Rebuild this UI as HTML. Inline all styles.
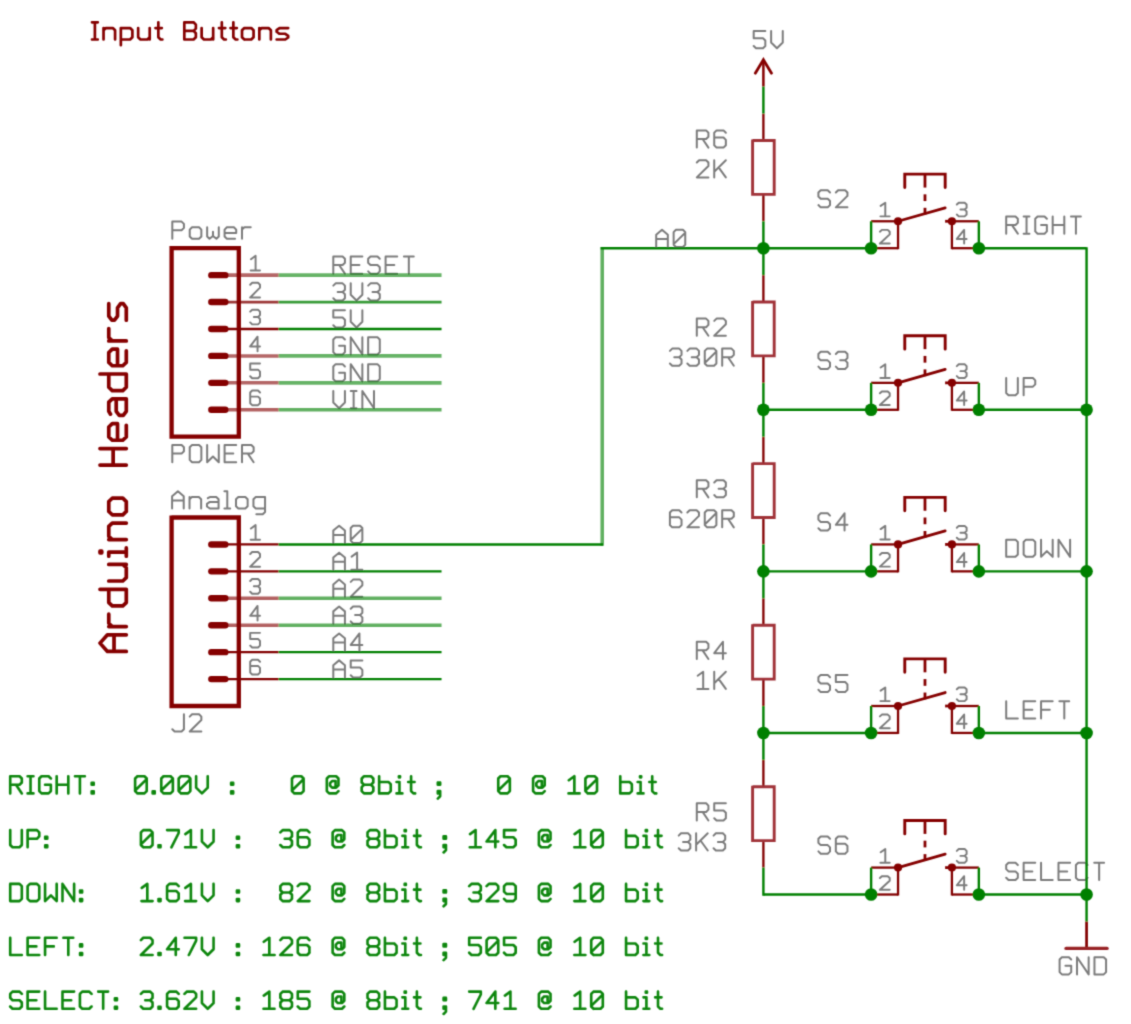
<!DOCTYPE html>
<html><head><meta charset="utf-8"><title>Input Buttons</title>
<style>
html,body{margin:0;padding:0;background:#fff;font-family:"Liberation Sans",sans-serif;}
svg{display:block}
</style></head><body>
<svg width="1131" height="1024" viewBox="0 0 1131 1024">
<defs><filter id="b" x="0" y="0" width="1131" height="1024" filterUnits="userSpaceOnUse"><feConvolveMatrix order="3" kernelMatrix="0.0256 0.1088 0.0256 0.1088 0.4624 0.1088 0.0256 0.1088 0.0256" edgeMode="none" preserveAlpha="false"/></filter></defs>
<rect width="1131" height="1024" fill="#fff"/>
<g filter="url(#b)">
<path d="M92.00 39.50 L97.77 39.50 M94.89 39.50 L94.89 22.30 M92.00 22.30 L97.77 22.30 M103.54 28.03 L103.54 39.50 M103.54 30.33 L105.85 28.03 L112.77 28.03 L115.08 30.33 L115.08 39.50 M120.85 45.23 L120.85 28.03 L130.08 28.03 L132.39 30.33 L132.39 37.21 L130.08 39.50 L120.85 39.50 M138.16 28.03 L138.16 37.21 L140.47 39.50 L147.39 39.50 L149.70 37.21 M149.70 28.03 L149.70 39.50 M158.35 22.30 L158.35 37.21 L160.66 39.50 L162.39 39.50 M155.47 28.03 L161.82 28.03 M184.32 39.50 L184.32 22.30 L193.55 22.30 L195.86 24.59 L195.86 28.61 L193.55 30.90 L184.32 30.90 M193.55 30.90 L195.86 33.19 L195.86 37.21 L193.55 39.50 L184.32 39.50 M201.63 28.03 L201.63 37.21 L203.94 39.50 L210.86 39.50 L213.17 37.21 M213.17 28.03 L213.17 39.50 M221.82 22.30 L221.82 37.21 L224.13 39.50 L225.86 39.50 M218.94 28.03 L225.29 28.03 M233.36 22.30 L233.36 37.21 L235.67 39.50 L237.40 39.50 M230.48 28.03 L236.83 28.03 M244.33 39.50 L242.02 37.21 L242.02 30.33 L244.33 28.03 L251.25 28.03 L253.56 30.33 L253.56 37.21 L251.25 39.50 L244.33 39.50 M259.33 28.03 L259.33 39.50 M259.33 30.33 L261.64 28.03 L268.56 28.03 L270.87 30.33 L270.87 39.50 M288.18 28.03 L279.52 28.03 L276.64 30.04 L276.64 31.76 L279.52 33.77 L285.29 33.77 L288.18 35.77 L288.18 37.49 L285.29 39.50 L276.64 39.50" stroke="#850000" stroke-width="2.70" stroke-linecap="round" stroke-linejoin="round" fill="none" opacity="1.00"/>
<path d="M126.30 651.40 L107.45 651.40 L100.00 643.12 L107.45 634.84 L126.30 634.84 M114.03 651.40 L114.03 634.84 M108.77 626.56 L126.30 626.56 M112.27 626.56 L108.77 623.25 L108.77 614.14 M100.00 589.30 L126.30 589.30 L126.30 602.55 L122.79 605.86 L112.27 605.86 L108.77 602.55 L108.77 589.30 M108.77 581.02 L122.79 581.02 L126.30 577.71 L126.30 567.77 L122.79 564.46 M108.77 564.46 L126.30 564.46 M108.77 556.18 L108.77 552.04 L126.30 552.04 M126.30 556.18 L126.30 547.90 M101.75 552.87 L101.75 551.21 L100.00 551.21 L100.00 552.87 L101.75 552.87 M108.77 539.62 L126.30 539.62 M112.27 539.62 L108.77 536.31 L108.77 526.37 L112.27 523.06 L126.30 523.06 M126.30 511.47 L122.79 514.78 L112.27 514.78 L108.77 511.47 L108.77 501.53 L112.27 498.22 L122.79 498.22 L126.30 501.53 L126.30 511.47 M126.30 465.10 L100.00 465.10 M126.30 448.54 L100.00 448.54 M113.15 465.10 L113.15 448.54 M117.53 440.26 L117.53 423.70 L112.27 423.70 L108.77 427.01 L108.77 436.95 L112.27 440.26 L122.79 440.26 L126.30 436.95 L126.30 425.36 M110.52 414.18 L108.77 411.28 L108.77 402.17 L112.27 398.86 L126.30 398.86 M126.30 398.86 L126.30 411.28 L123.23 415.42 L119.29 415.42 L116.22 411.28 L116.22 398.86 M100.00 374.02 L126.30 374.02 L126.30 387.27 L122.79 390.58 L112.27 390.58 L108.77 387.27 L108.77 374.02 M117.53 365.74 L117.53 349.18 L112.27 349.18 L108.77 352.49 L108.77 362.43 L112.27 365.74 L122.79 365.74 L126.30 362.43 L126.30 350.84 M108.77 340.90 L126.30 340.90 M112.27 340.90 L108.77 337.59 L108.77 328.48 M108.77 303.64 L108.77 316.06 L111.83 320.20 L114.46 320.20 L117.53 316.06 L117.53 307.78 L120.60 303.64 L123.23 303.64 L126.30 307.78 L126.30 320.20" stroke="#850000" stroke-width="3.70" stroke-linecap="round" stroke-linejoin="round" fill="none" opacity="1.00"/>
<path d="M765.32 31.10 L753.70 31.10 L753.70 38.27 L763.00 38.27 L765.32 40.56 L765.32 46.01 L763.00 48.30 L756.02 48.30 L753.70 46.01 M771.13 31.10 L771.13 42.57 L776.94 48.30 L782.75 42.57 L782.75 31.10" stroke="#7c7c7c" stroke-width="2.00" stroke-linecap="round" stroke-linejoin="round" fill="none" opacity="1.00"/>
<path d="M1071.22 959.49 L1068.90 957.20 L1061.92 957.20 L1059.60 959.49 L1059.60 972.11 L1061.92 974.40 L1068.90 974.40 L1071.22 972.11 L1071.22 965.80 L1065.41 965.80 M1077.03 974.40 L1077.03 957.20 L1088.65 974.40 L1088.65 957.20 M1094.46 974.40 L1094.46 957.20 L1103.76 957.20 L1106.08 959.49 L1106.08 972.11 L1103.76 974.40 L1094.46 974.40" stroke="#7c7c7c" stroke-width="2.00" stroke-linecap="round" stroke-linejoin="round" fill="none" opacity="1.00"/>
<path d="M656.20 247.00 L656.20 234.67 L662.01 229.80 L667.82 234.67 L667.82 247.00 M656.20 238.97 L667.82 238.97 M675.95 247.00 L673.63 244.71 L673.63 232.09 L675.95 229.80 L682.93 229.80 L685.25 232.09 L685.25 244.71 L682.93 247.00 L675.95 247.00 M673.63 244.13 L685.25 232.67" stroke="#7c7c7c" stroke-width="2.00" stroke-linecap="round" stroke-linejoin="round" fill="none" opacity="1.00"/>
<path d="M696.80 147.60 L696.80 130.40 L706.10 130.40 L708.42 132.69 L708.42 136.71 L706.10 139.00 L696.80 139.00 M702.61 139.00 L708.42 147.60 M725.85 132.69 L723.53 130.40 L716.55 130.40 L714.23 132.69 L714.23 145.31 L716.55 147.60 L723.53 147.60 L725.85 145.31 L725.85 139.86 L723.53 137.57 L714.23 137.57" stroke="#7c7c7c" stroke-width="2.00" stroke-linecap="round" stroke-linejoin="round" fill="none" opacity="1.00"/>
<path d="M696.80 162.49 L699.12 160.20 L706.10 160.20 L708.42 162.49 L708.42 165.93 L696.80 177.40 L708.42 177.40 M714.23 177.40 L714.23 160.20 M725.85 160.20 L714.23 171.67 M718.59 167.37 L725.85 177.40" stroke="#7c7c7c" stroke-width="2.00" stroke-linecap="round" stroke-linejoin="round" fill="none" opacity="1.00"/>
<path d="M696.80 335.79 L696.80 318.59 L706.10 318.59 L708.42 320.88 L708.42 324.90 L706.10 327.19 L696.80 327.19 M702.61 327.19 L708.42 335.79 M714.23 320.88 L716.55 318.59 L723.53 318.59 L725.85 320.88 L725.85 324.32 L714.23 335.79 L725.85 335.79" stroke="#7c7c7c" stroke-width="2.00" stroke-linecap="round" stroke-linejoin="round" fill="none" opacity="1.00"/>
<path d="M669.90 350.88 L672.22 348.59 L679.20 348.59 L681.52 350.88 L681.52 354.90 L679.20 357.19 L674.26 357.19 M679.20 357.19 L681.52 359.48 L681.52 363.50 L679.20 365.79 L672.22 365.79 L669.90 363.50 M687.33 350.88 L689.65 348.59 L696.63 348.59 L698.95 350.88 L698.95 354.90 L696.63 357.19 L691.69 357.19 M696.63 357.19 L698.95 359.48 L698.95 363.50 L696.63 365.79 L689.65 365.79 L687.33 363.50 M707.08 365.79 L704.76 363.50 L704.76 350.88 L707.08 348.59 L714.06 348.59 L716.38 350.88 L716.38 363.50 L714.06 365.79 L707.08 365.79 M704.76 362.92 L716.38 351.46 M722.19 365.79 L722.19 348.59 L731.49 348.59 L733.81 350.88 L733.81 354.90 L731.49 357.19 L722.19 357.19 M728.00 357.19 L733.81 365.79" stroke="#7c7c7c" stroke-width="2.00" stroke-linecap="round" stroke-linejoin="round" fill="none" opacity="1.00"/>
<path d="M696.80 497.37 L696.80 480.17 L706.10 480.17 L708.42 482.46 L708.42 486.48 L706.10 488.77 L696.80 488.77 M702.61 488.77 L708.42 497.37 M714.23 482.46 L716.55 480.17 L723.53 480.17 L725.85 482.46 L725.85 486.48 L723.53 488.77 L718.59 488.77 M723.53 488.77 L725.85 491.06 L725.85 495.08 L723.53 497.37 L716.55 497.37 L714.23 495.08" stroke="#7c7c7c" stroke-width="2.00" stroke-linecap="round" stroke-linejoin="round" fill="none" opacity="1.00"/>
<path d="M681.52 512.46 L679.20 510.17 L672.22 510.17 L669.90 512.46 L669.90 525.08 L672.22 527.37 L679.20 527.37 L681.52 525.08 L681.52 519.63 L679.20 517.34 L669.90 517.34 M687.33 512.46 L689.65 510.17 L696.63 510.17 L698.95 512.46 L698.95 515.90 L687.33 527.37 L698.95 527.37 M707.08 527.37 L704.76 525.08 L704.76 512.46 L707.08 510.17 L714.06 510.17 L716.38 512.46 L716.38 525.08 L714.06 527.37 L707.08 527.37 M704.76 524.50 L716.38 513.04 M722.19 527.37 L722.19 510.17 L731.49 510.17 L733.81 512.46 L733.81 516.48 L731.49 518.77 L722.19 518.77 M728.00 518.77 L733.81 527.37" stroke="#7c7c7c" stroke-width="2.00" stroke-linecap="round" stroke-linejoin="round" fill="none" opacity="1.00"/>
<path d="M696.80 658.95 L696.80 641.75 L706.10 641.75 L708.42 644.04 L708.42 648.06 L706.10 650.35 L696.80 650.35 M702.61 650.35 L708.42 658.95 M722.94 658.95 L722.94 641.75 L714.23 653.22 L725.85 653.22" stroke="#7c7c7c" stroke-width="2.00" stroke-linecap="round" stroke-linejoin="round" fill="none" opacity="1.00"/>
<path d="M697.67 675.76 L703.19 671.75 L703.19 688.95 M697.38 688.95 L708.42 688.95 M714.23 688.95 L714.23 671.75 M725.85 671.75 L714.23 683.22 M718.59 678.92 L725.85 688.95" stroke="#7c7c7c" stroke-width="2.00" stroke-linecap="round" stroke-linejoin="round" fill="none" opacity="1.00"/>
<path d="M696.80 820.53 L696.80 803.33 L706.10 803.33 L708.42 805.62 L708.42 809.64 L706.10 811.93 L696.80 811.93 M702.61 811.93 L708.42 820.53 M725.85 803.33 L714.23 803.33 L714.23 810.50 L723.53 810.50 L725.85 812.79 L725.85 818.24 L723.53 820.53 L716.55 820.53 L714.23 818.24" stroke="#7c7c7c" stroke-width="2.00" stroke-linecap="round" stroke-linejoin="round" fill="none" opacity="1.00"/>
<path d="M678.70 835.62 L681.02 833.33 L688.00 833.33 L690.32 835.62 L690.32 839.64 L688.00 841.93 L683.06 841.93 M688.00 841.93 L690.32 844.22 L690.32 848.24 L688.00 850.53 L681.02 850.53 L678.70 848.24 M696.13 850.53 L696.13 833.33 M707.75 833.33 L696.13 844.80 M700.49 840.50 L707.75 850.53 M713.56 835.62 L715.88 833.33 L722.86 833.33 L725.18 835.62 L725.18 839.64 L722.86 841.93 L717.92 841.93 M722.86 841.93 L725.18 844.22 L725.18 848.24 L722.86 850.53 L715.88 850.53 L713.56 848.24" stroke="#7c7c7c" stroke-width="2.00" stroke-linecap="round" stroke-linejoin="round" fill="none" opacity="1.00"/>
<path d="M830.02 192.46 L827.70 190.17 L820.72 190.17 L818.40 192.46 L818.40 196.48 L820.72 198.77 L827.70 198.77 L830.02 201.06 L830.02 205.08 L827.70 207.37 L820.72 207.37 L818.40 205.08 M835.83 192.46 L838.15 190.17 L845.13 190.17 L847.45 192.46 L847.45 195.90 L835.83 207.37 L847.45 207.37" stroke="#7c7c7c" stroke-width="2.00" stroke-linecap="round" stroke-linejoin="round" fill="none" opacity="1.00"/>
<path d="M1006.20 233.67 L1006.20 216.47 L1015.50 216.47 L1017.82 218.76 L1017.82 222.78 L1015.50 225.07 L1006.20 225.07 M1012.01 225.07 L1017.82 233.67 M1023.63 233.67 L1029.44 233.67 M1026.54 233.67 L1026.54 216.47 M1023.63 216.47 L1029.44 216.47 M1046.87 218.76 L1044.55 216.47 L1037.57 216.47 L1035.25 218.76 L1035.25 231.38 L1037.57 233.67 L1044.55 233.67 L1046.87 231.38 L1046.87 225.07 L1041.06 225.07 M1052.68 233.67 L1052.68 216.47 M1064.30 233.67 L1064.30 216.47 M1052.68 225.07 L1064.30 225.07 M1070.98 216.47 L1080.86 216.47 M1075.92 216.47 L1075.92 233.67" stroke="#7c7c7c" stroke-width="2.00" stroke-linecap="round" stroke-linejoin="round" fill="none" opacity="1.00"/>
<path d="M880.63 205.93 L885.29 202.75 L885.29 216.37 M880.39 216.37 L889.70 216.37" stroke="#7c7c7c" stroke-width="1.95" stroke-linecap="round" stroke-linejoin="round" fill="none" opacity="1.00"/>
<path d="M879.90 231.67 L881.86 229.85 L887.74 229.85 L889.70 231.67 L889.70 234.39 L879.90 243.47 L889.70 243.47" stroke="#7c7c7c" stroke-width="1.95" stroke-linecap="round" stroke-linejoin="round" fill="none" opacity="1.00"/>
<path d="M956.80 204.57 L958.76 202.75 L964.64 202.75 L966.60 204.57 L966.60 207.74 L964.64 209.56 L960.47 209.56 M964.64 209.56 L966.60 211.38 L966.60 214.55 L964.64 216.37 L958.76 216.37 L956.80 214.55" stroke="#7c7c7c" stroke-width="1.95" stroke-linecap="round" stroke-linejoin="round" fill="none" opacity="1.00"/>
<path d="M964.15 243.47 L964.15 229.85 L956.80 238.93 L966.60 238.93" stroke="#7c7c7c" stroke-width="1.95" stroke-linecap="round" stroke-linejoin="round" fill="none" opacity="1.00"/>
<path d="M830.02 354.04 L827.70 351.75 L820.72 351.75 L818.40 354.04 L818.40 358.06 L820.72 360.35 L827.70 360.35 L830.02 362.64 L830.02 366.66 L827.70 368.95 L820.72 368.95 L818.40 366.66 M835.83 354.04 L838.15 351.75 L845.13 351.75 L847.45 354.04 L847.45 358.06 L845.13 360.35 L840.19 360.35 M845.13 360.35 L847.45 362.64 L847.45 366.66 L845.13 368.95 L838.15 368.95 L835.83 366.66" stroke="#7c7c7c" stroke-width="2.00" stroke-linecap="round" stroke-linejoin="round" fill="none" opacity="1.00"/>
<path d="M1006.20 378.05 L1006.20 392.96 L1008.52 395.25 L1015.50 395.25 L1017.82 392.96 L1017.82 378.05 M1023.63 395.25 L1023.63 378.05 L1032.93 378.05 L1035.25 380.34 L1035.25 384.36 L1032.93 386.65 L1023.63 386.65" stroke="#7c7c7c" stroke-width="2.00" stroke-linecap="round" stroke-linejoin="round" fill="none" opacity="1.00"/>
<path d="M880.63 367.51 L885.29 364.33 L885.29 377.95 M880.39 377.95 L889.70 377.95" stroke="#7c7c7c" stroke-width="1.95" stroke-linecap="round" stroke-linejoin="round" fill="none" opacity="1.00"/>
<path d="M879.90 393.25 L881.86 391.43 L887.74 391.43 L889.70 393.25 L889.70 395.97 L879.90 405.05 L889.70 405.05" stroke="#7c7c7c" stroke-width="1.95" stroke-linecap="round" stroke-linejoin="round" fill="none" opacity="1.00"/>
<path d="M956.80 366.15 L958.76 364.33 L964.64 364.33 L966.60 366.15 L966.60 369.32 L964.64 371.14 L960.47 371.14 M964.64 371.14 L966.60 372.96 L966.60 376.13 L964.64 377.95 L958.76 377.95 L956.80 376.13" stroke="#7c7c7c" stroke-width="1.95" stroke-linecap="round" stroke-linejoin="round" fill="none" opacity="1.00"/>
<path d="M964.15 405.05 L964.15 391.43 L956.80 400.51 L966.60 400.51" stroke="#7c7c7c" stroke-width="1.95" stroke-linecap="round" stroke-linejoin="round" fill="none" opacity="1.00"/>
<path d="M830.02 515.62 L827.70 513.33 L820.72 513.33 L818.40 515.62 L818.40 519.64 L820.72 521.93 L827.70 521.93 L830.02 524.22 L830.02 528.24 L827.70 530.53 L820.72 530.53 L818.40 528.24 M844.54 530.53 L844.54 513.33 L835.83 524.80 L847.45 524.80" stroke="#7c7c7c" stroke-width="2.00" stroke-linecap="round" stroke-linejoin="round" fill="none" opacity="1.00"/>
<path d="M1006.20 556.83 L1006.20 539.63 L1015.50 539.63 L1017.82 541.92 L1017.82 554.54 L1015.50 556.83 L1006.20 556.83 M1025.95 556.83 L1023.63 554.54 L1023.63 541.92 L1025.95 539.63 L1032.93 539.63 L1035.25 541.92 L1035.25 554.54 L1032.93 556.83 L1025.95 556.83 M1041.06 539.63 L1041.06 556.83 L1046.87 551.10 L1052.68 556.83 L1052.68 539.63 M1058.49 556.83 L1058.49 539.63 L1070.11 556.83 L1070.11 539.63" stroke="#7c7c7c" stroke-width="2.00" stroke-linecap="round" stroke-linejoin="round" fill="none" opacity="1.00"/>
<path d="M880.63 529.09 L885.29 525.91 L885.29 539.53 M880.39 539.53 L889.70 539.53" stroke="#7c7c7c" stroke-width="1.95" stroke-linecap="round" stroke-linejoin="round" fill="none" opacity="1.00"/>
<path d="M879.90 554.83 L881.86 553.01 L887.74 553.01 L889.70 554.83 L889.70 557.55 L879.90 566.63 L889.70 566.63" stroke="#7c7c7c" stroke-width="1.95" stroke-linecap="round" stroke-linejoin="round" fill="none" opacity="1.00"/>
<path d="M956.80 527.73 L958.76 525.91 L964.64 525.91 L966.60 527.73 L966.60 530.90 L964.64 532.72 L960.47 532.72 M964.64 532.72 L966.60 534.54 L966.60 537.71 L964.64 539.53 L958.76 539.53 L956.80 537.71" stroke="#7c7c7c" stroke-width="1.95" stroke-linecap="round" stroke-linejoin="round" fill="none" opacity="1.00"/>
<path d="M964.15 566.63 L964.15 553.01 L956.80 562.09 L966.60 562.09" stroke="#7c7c7c" stroke-width="1.95" stroke-linecap="round" stroke-linejoin="round" fill="none" opacity="1.00"/>
<path d="M830.02 677.20 L827.70 674.91 L820.72 674.91 L818.40 677.20 L818.40 681.22 L820.72 683.51 L827.70 683.51 L830.02 685.80 L830.02 689.82 L827.70 692.11 L820.72 692.11 L818.40 689.82 M847.45 674.91 L835.83 674.91 L835.83 682.08 L845.13 682.08 L847.45 684.37 L847.45 689.82 L845.13 692.11 L838.15 692.11 L835.83 689.82" stroke="#7c7c7c" stroke-width="2.00" stroke-linecap="round" stroke-linejoin="round" fill="none" opacity="1.00"/>
<path d="M1006.20 701.21 L1006.20 718.41 L1017.82 718.41 M1035.25 718.41 L1023.63 718.41 L1023.63 701.21 L1035.25 701.21 M1023.63 709.81 L1032.35 709.81 M1041.06 718.41 L1041.06 701.21 L1052.68 701.21 M1041.06 709.81 L1049.78 709.81 M1059.36 701.21 L1069.24 701.21 M1064.30 701.21 L1064.30 718.41" stroke="#7c7c7c" stroke-width="2.00" stroke-linecap="round" stroke-linejoin="round" fill="none" opacity="1.00"/>
<path d="M880.63 690.67 L885.29 687.49 L885.29 701.11 M880.39 701.11 L889.70 701.11" stroke="#7c7c7c" stroke-width="1.95" stroke-linecap="round" stroke-linejoin="round" fill="none" opacity="1.00"/>
<path d="M879.90 716.41 L881.86 714.59 L887.74 714.59 L889.70 716.41 L889.70 719.13 L879.90 728.21 L889.70 728.21" stroke="#7c7c7c" stroke-width="1.95" stroke-linecap="round" stroke-linejoin="round" fill="none" opacity="1.00"/>
<path d="M956.80 689.31 L958.76 687.49 L964.64 687.49 L966.60 689.31 L966.60 692.48 L964.64 694.30 L960.47 694.30 M964.64 694.30 L966.60 696.12 L966.60 699.29 L964.64 701.11 L958.76 701.11 L956.80 699.29" stroke="#7c7c7c" stroke-width="1.95" stroke-linecap="round" stroke-linejoin="round" fill="none" opacity="1.00"/>
<path d="M964.15 728.21 L964.15 714.59 L956.80 723.67 L966.60 723.67" stroke="#7c7c7c" stroke-width="1.95" stroke-linecap="round" stroke-linejoin="round" fill="none" opacity="1.00"/>
<path d="M830.02 838.78 L827.70 836.49 L820.72 836.49 L818.40 838.78 L818.40 842.80 L820.72 845.09 L827.70 845.09 L830.02 847.38 L830.02 851.40 L827.70 853.69 L820.72 853.69 L818.40 851.40 M847.45 838.78 L845.13 836.49 L838.15 836.49 L835.83 838.78 L835.83 851.40 L838.15 853.69 L845.13 853.69 L847.45 851.40 L847.45 845.95 L845.13 843.66 L835.83 843.66" stroke="#7c7c7c" stroke-width="2.00" stroke-linecap="round" stroke-linejoin="round" fill="none" opacity="1.00"/>
<path d="M1017.82 865.08 L1015.50 862.79 L1008.52 862.79 L1006.20 865.08 L1006.20 869.10 L1008.52 871.39 L1015.50 871.39 L1017.82 873.68 L1017.82 877.70 L1015.50 879.99 L1008.52 879.99 L1006.20 877.70 M1035.25 879.99 L1023.63 879.99 L1023.63 862.79 L1035.25 862.79 M1023.63 871.39 L1032.35 871.39 M1041.06 862.79 L1041.06 879.99 L1052.68 879.99 M1070.11 879.99 L1058.49 879.99 L1058.49 862.79 L1070.11 862.79 M1058.49 871.39 L1067.20 871.39 M1087.54 877.70 L1085.22 879.99 L1078.24 879.99 L1075.92 877.70 L1075.92 865.08 L1078.24 862.79 L1085.22 862.79 L1087.54 865.08 M1094.22 862.79 L1104.10 862.79 M1099.16 862.79 L1099.16 879.99" stroke="#7c7c7c" stroke-width="2.00" stroke-linecap="round" stroke-linejoin="round" fill="none" opacity="1.00"/>
<path d="M880.63 852.25 L885.29 849.07 L885.29 862.69 M880.39 862.69 L889.70 862.69" stroke="#7c7c7c" stroke-width="1.95" stroke-linecap="round" stroke-linejoin="round" fill="none" opacity="1.00"/>
<path d="M879.90 877.99 L881.86 876.17 L887.74 876.17 L889.70 877.99 L889.70 880.71 L879.90 889.79 L889.70 889.79" stroke="#7c7c7c" stroke-width="1.95" stroke-linecap="round" stroke-linejoin="round" fill="none" opacity="1.00"/>
<path d="M956.80 850.89 L958.76 849.07 L964.64 849.07 L966.60 850.89 L966.60 854.06 L964.64 855.88 L960.47 855.88 M964.64 855.88 L966.60 857.70 L966.60 860.87 L964.64 862.69 L958.76 862.69 L956.80 860.87" stroke="#7c7c7c" stroke-width="1.95" stroke-linecap="round" stroke-linejoin="round" fill="none" opacity="1.00"/>
<path d="M964.15 889.79 L964.15 876.17 L956.80 885.25 L966.60 885.25" stroke="#7c7c7c" stroke-width="1.95" stroke-linecap="round" stroke-linejoin="round" fill="none" opacity="1.00"/>
<path d="M172.30 238.80 L172.30 221.60 L181.60 221.60 L183.92 223.89 L183.92 227.91 L181.60 230.20 L172.30 230.20 M192.05 238.80 L189.73 236.51 L189.73 229.63 L192.05 227.33 L199.03 227.33 L201.35 229.63 L201.35 236.51 L199.03 238.80 L192.05 238.80 M207.16 227.33 L207.16 236.51 L209.48 238.80 L212.97 235.93 L216.46 238.80 L218.78 236.51 L218.78 227.33 M212.97 235.93 L212.97 231.63 M224.59 233.07 L236.21 233.07 L236.21 229.63 L233.89 227.33 L226.91 227.33 L224.59 229.63 L224.59 236.51 L226.91 238.80 L235.05 238.80 M242.02 227.33 L242.02 238.80 M242.02 229.63 L244.34 227.33 L250.74 227.33" stroke="#7c7c7c" stroke-width="2.00" stroke-linecap="round" stroke-linejoin="round" fill="none" opacity="1.00"/>
<path d="M172.30 462.20 L172.30 445.00 L181.60 445.00 L183.92 447.29 L183.92 451.31 L181.60 453.60 L172.30 453.60 M192.05 462.20 L189.73 459.91 L189.73 447.29 L192.05 445.00 L199.03 445.00 L201.35 447.29 L201.35 459.91 L199.03 462.20 L192.05 462.20 M207.16 445.00 L207.16 462.20 L212.97 456.47 L218.78 462.20 L218.78 445.00 M236.21 462.20 L224.59 462.20 L224.59 445.00 L236.21 445.00 M224.59 453.60 L233.31 453.60 M242.02 462.20 L242.02 445.00 L251.32 445.00 L253.64 447.29 L253.64 451.31 L251.32 453.60 L242.02 453.60 M247.83 453.60 L253.64 462.20" stroke="#7c7c7c" stroke-width="2.00" stroke-linecap="round" stroke-linejoin="round" fill="none" opacity="1.00"/>
<path d="M172.10 508.50 L172.10 496.17 L177.91 491.30 L183.72 496.17 L183.72 508.50 M172.10 500.47 L183.72 500.47 M189.53 497.03 L189.53 508.50 M189.53 499.33 L191.85 497.03 L198.83 497.03 L201.15 499.33 L201.15 508.50 M207.83 498.18 L209.87 497.03 L216.26 497.03 L218.58 499.33 L218.58 508.50 M218.58 508.50 L209.87 508.50 L206.96 506.49 L206.96 503.91 L209.87 501.91 L218.58 501.91 M224.39 491.30 L227.29 491.30 L227.29 508.50 M224.39 508.50 L230.20 508.50 M238.33 508.50 L236.01 506.21 L236.01 499.33 L238.33 497.03 L245.31 497.03 L247.63 499.33 L247.63 506.21 L245.31 508.50 L238.33 508.50 M265.06 508.50 L255.76 508.50 L253.44 506.21 L253.44 499.33 L255.76 497.03 L265.06 497.03 L265.06 511.94 L262.74 514.23 L256.34 514.23" stroke="#7c7c7c" stroke-width="2.00" stroke-linecap="round" stroke-linejoin="round" fill="none" opacity="1.00"/>
<path d="M172.30 729.21 L174.62 731.50 L181.60 731.50 L183.92 729.21 L183.92 714.30 M189.73 716.59 L192.05 714.30 L199.03 714.30 L201.35 716.59 L201.35 720.03 L189.73 731.50 L201.35 731.50" stroke="#7c7c7c" stroke-width="2.00" stroke-linecap="round" stroke-linejoin="round" fill="none" opacity="1.00"/>
<path d="M250.94 259.26 L255.59 255.83 L255.59 270.53 M250.69 270.53 L260.00 270.53" stroke="#7c7c7c" stroke-width="1.95" stroke-linecap="round" stroke-linejoin="round" fill="none" opacity="1.00"/>
<path d="M333.30 273.63 L333.30 256.43 L342.60 256.43 L344.92 258.72 L344.92 262.74 L342.60 265.03 L333.30 265.03 M339.11 265.03 L344.92 273.63 M362.35 273.63 L350.73 273.63 L350.73 256.43 L362.35 256.43 M350.73 265.03 L359.44 265.03 M379.78 258.72 L377.46 256.43 L370.48 256.43 L368.16 258.72 L368.16 262.74 L370.48 265.03 L377.46 265.03 L379.78 267.32 L379.78 271.34 L377.46 273.63 L370.48 273.63 L368.16 271.34 M397.21 273.63 L385.59 273.63 L385.59 256.43 L397.21 256.43 M385.59 265.03 L394.31 265.03 M403.89 256.43 L413.77 256.43 M408.83 256.43 L408.83 273.63" stroke="#7c7c7c" stroke-width="2.00" stroke-linecap="round" stroke-linejoin="round" fill="none" opacity="1.00"/>
<path d="M250.94 528.56 L255.59 525.13 L255.59 539.83 M250.69 539.83 L260.00 539.83" stroke="#7c7c7c" stroke-width="1.95" stroke-linecap="round" stroke-linejoin="round" fill="none" opacity="1.00"/>
<path d="M333.30 542.93 L333.30 530.60 L339.11 525.73 L344.92 530.60 L344.92 542.93 M333.30 534.90 L344.92 534.90 M353.05 542.93 L350.73 540.64 L350.73 528.02 L353.05 525.73 L360.03 525.73 L362.35 528.02 L362.35 540.64 L360.03 542.93 L353.05 542.93 M350.73 540.06 L362.35 528.60" stroke="#7c7c7c" stroke-width="2.00" stroke-linecap="round" stroke-linejoin="round" fill="none" opacity="1.00"/>
<path d="M250.20 284.72 L252.16 282.76 L258.04 282.76 L260.00 284.72 L260.00 287.66 L250.20 297.46 L260.00 297.46" stroke="#7c7c7c" stroke-width="1.95" stroke-linecap="round" stroke-linejoin="round" fill="none" opacity="1.00"/>
<path d="M333.30 285.65 L335.62 283.36 L342.60 283.36 L344.92 285.65 L344.92 289.67 L342.60 291.96 L337.66 291.96 M342.60 291.96 L344.92 294.25 L344.92 298.27 L342.60 300.56 L335.62 300.56 L333.30 298.27 M350.73 283.36 L350.73 294.83 L356.54 300.56 L362.35 294.83 L362.35 283.36 M368.16 285.65 L370.48 283.36 L377.46 283.36 L379.78 285.65 L379.78 289.67 L377.46 291.96 L372.52 291.96 M377.46 291.96 L379.78 294.25 L379.78 298.27 L377.46 300.56 L370.48 300.56 L368.16 298.27" stroke="#7c7c7c" stroke-width="2.00" stroke-linecap="round" stroke-linejoin="round" fill="none" opacity="1.00"/>
<path d="M250.20 554.02 L252.16 552.06 L258.04 552.06 L260.00 554.02 L260.00 556.96 L250.20 566.76 L260.00 566.76" stroke="#7c7c7c" stroke-width="1.95" stroke-linecap="round" stroke-linejoin="round" fill="none" opacity="1.00"/>
<path d="M333.30 569.86 L333.30 557.53 L339.11 552.66 L344.92 557.53 L344.92 569.86 M333.30 561.83 L344.92 561.83 M351.60 556.67 L357.12 552.66 L357.12 569.86 M351.31 569.86 L362.35 569.86" stroke="#7c7c7c" stroke-width="2.00" stroke-linecap="round" stroke-linejoin="round" fill="none" opacity="1.00"/>
<path d="M250.20 311.65 L252.16 309.69 L258.04 309.69 L260.00 311.65 L260.00 315.08 L258.04 317.04 L253.88 317.04 M258.04 317.04 L260.00 319.00 L260.00 322.43 L258.04 324.39 L252.16 324.39 L250.20 322.43" stroke="#7c7c7c" stroke-width="1.95" stroke-linecap="round" stroke-linejoin="round" fill="none" opacity="1.00"/>
<path d="M344.92 310.29 L333.30 310.29 L333.30 317.46 L342.60 317.46 L344.92 319.75 L344.92 325.20 L342.60 327.49 L335.62 327.49 L333.30 325.20 M350.73 310.29 L350.73 321.76 L356.54 327.49 L362.35 321.76 L362.35 310.29" stroke="#7c7c7c" stroke-width="2.00" stroke-linecap="round" stroke-linejoin="round" fill="none" opacity="1.00"/>
<path d="M250.20 580.95 L252.16 578.99 L258.04 578.99 L260.00 580.95 L260.00 584.38 L258.04 586.34 L253.88 586.34 M258.04 586.34 L260.00 588.30 L260.00 591.73 L258.04 593.69 L252.16 593.69 L250.20 591.73" stroke="#7c7c7c" stroke-width="1.95" stroke-linecap="round" stroke-linejoin="round" fill="none" opacity="1.00"/>
<path d="M333.30 596.79 L333.30 584.46 L339.11 579.59 L344.92 584.46 L344.92 596.79 M333.30 588.76 L344.92 588.76 M350.73 581.88 L353.05 579.59 L360.03 579.59 L362.35 581.88 L362.35 585.32 L350.73 596.79 L362.35 596.79" stroke="#7c7c7c" stroke-width="2.00" stroke-linecap="round" stroke-linejoin="round" fill="none" opacity="1.00"/>
<path d="M257.55 351.32 L257.55 336.62 L250.20 346.42 L260.00 346.42" stroke="#7c7c7c" stroke-width="1.95" stroke-linecap="round" stroke-linejoin="round" fill="none" opacity="1.00"/>
<path d="M344.92 339.51 L342.60 337.22 L335.62 337.22 L333.30 339.51 L333.30 352.13 L335.62 354.42 L342.60 354.42 L344.92 352.13 L344.92 345.82 L339.11 345.82 M350.73 354.42 L350.73 337.22 L362.35 354.42 L362.35 337.22 M368.16 354.42 L368.16 337.22 L377.46 337.22 L379.78 339.51 L379.78 352.13 L377.46 354.42 L368.16 354.42" stroke="#7c7c7c" stroke-width="2.00" stroke-linecap="round" stroke-linejoin="round" fill="none" opacity="1.00"/>
<path d="M257.55 620.62 L257.55 605.92 L250.20 615.72 L260.00 615.72" stroke="#7c7c7c" stroke-width="1.95" stroke-linecap="round" stroke-linejoin="round" fill="none" opacity="1.00"/>
<path d="M333.30 623.72 L333.30 611.39 L339.11 606.52 L344.92 611.39 L344.92 623.72 M333.30 615.69 L344.92 615.69 M350.73 608.81 L353.05 606.52 L360.03 606.52 L362.35 608.81 L362.35 612.83 L360.03 615.12 L355.09 615.12 M360.03 615.12 L362.35 617.41 L362.35 621.43 L360.03 623.72 L353.05 623.72 L350.73 621.43" stroke="#7c7c7c" stroke-width="2.00" stroke-linecap="round" stroke-linejoin="round" fill="none" opacity="1.00"/>
<path d="M260.00 363.55 L250.20 363.55 L250.20 369.68 L258.04 369.68 L260.00 371.63 L260.00 376.29 L258.04 378.25 L252.16 378.25 L250.20 376.29" stroke="#7c7c7c" stroke-width="1.95" stroke-linecap="round" stroke-linejoin="round" fill="none" opacity="1.00"/>
<path d="M344.92 366.44 L342.60 364.15 L335.62 364.15 L333.30 366.44 L333.30 379.06 L335.62 381.35 L342.60 381.35 L344.92 379.06 L344.92 372.75 L339.11 372.75 M350.73 381.35 L350.73 364.15 L362.35 381.35 L362.35 364.15 M368.16 381.35 L368.16 364.15 L377.46 364.15 L379.78 366.44 L379.78 379.06 L377.46 381.35 L368.16 381.35" stroke="#7c7c7c" stroke-width="2.00" stroke-linecap="round" stroke-linejoin="round" fill="none" opacity="1.00"/>
<path d="M260.00 632.85 L250.20 632.85 L250.20 638.97 L258.04 638.97 L260.00 640.93 L260.00 645.59 L258.04 647.55 L252.16 647.55 L250.20 645.59" stroke="#7c7c7c" stroke-width="1.95" stroke-linecap="round" stroke-linejoin="round" fill="none" opacity="1.00"/>
<path d="M333.30 650.65 L333.30 638.32 L339.11 633.45 L344.92 638.32 L344.92 650.65 M333.30 642.62 L344.92 642.62 M359.44 650.65 L359.44 633.45 L350.73 644.92 L362.35 644.92" stroke="#7c7c7c" stroke-width="2.00" stroke-linecap="round" stroke-linejoin="round" fill="none" opacity="1.00"/>
<path d="M260.00 392.44 L258.04 390.48 L252.16 390.48 L250.20 392.44 L250.20 403.22 L252.16 405.18 L258.04 405.18 L260.00 403.22 L260.00 398.56 L258.04 396.60 L250.20 396.60" stroke="#7c7c7c" stroke-width="1.95" stroke-linecap="round" stroke-linejoin="round" fill="none" opacity="1.00"/>
<path d="M333.30 391.08 L333.30 402.55 L339.11 408.28 L344.92 402.55 L344.92 391.08 M350.73 408.28 L356.54 408.28 M353.63 408.28 L353.63 391.08 M350.73 391.08 L356.54 391.08 M362.35 408.28 L362.35 391.08 L373.97 408.28 L373.97 391.08" stroke="#7c7c7c" stroke-width="2.00" stroke-linecap="round" stroke-linejoin="round" fill="none" opacity="1.00"/>
<path d="M260.00 661.74 L258.04 659.78 L252.16 659.78 L250.20 661.74 L250.20 672.52 L252.16 674.48 L258.04 674.48 L260.00 672.52 L260.00 667.86 L258.04 665.90 L250.20 665.90" stroke="#7c7c7c" stroke-width="1.95" stroke-linecap="round" stroke-linejoin="round" fill="none" opacity="1.00"/>
<path d="M333.30 677.58 L333.30 665.25 L339.11 660.38 L344.92 665.25 L344.92 677.58 M333.30 669.55 L344.92 669.55 M362.35 660.38 L350.73 660.38 L350.73 667.55 L360.03 667.55 L362.35 669.84 L362.35 675.29 L360.03 677.58 L353.05 677.58 L350.73 675.29" stroke="#7c7c7c" stroke-width="2.00" stroke-linecap="round" stroke-linejoin="round" fill="none" opacity="1.00"/>
<path d="M10.20 793.40 L10.20 776.20 L19.50 776.20 L21.82 778.49 L21.82 782.51 L19.50 784.80 L10.20 784.80 M16.01 784.80 L21.82 793.40 M27.63 793.40 L33.44 793.40 M30.53 793.40 L30.53 776.20 M27.63 776.20 L33.44 776.20 M50.87 778.49 L48.55 776.20 L41.57 776.20 L39.25 778.49 L39.25 791.11 L41.57 793.40 L48.55 793.40 L50.87 791.11 L50.87 784.80 L45.06 784.80 M56.68 793.40 L56.68 776.20 M68.30 793.40 L68.30 776.20 M56.68 784.80 L68.30 784.80 M74.98 776.20 L84.86 776.20 M79.92 776.20 L79.92 793.40 M91.69 793.40 L93.72 793.40 L93.72 791.39 L91.69 791.39 L91.69 793.40 M91.69 784.80 L93.72 784.80 L93.72 782.79 L91.69 782.79 L91.69 784.80 M137.44 793.40 L135.11 791.11 L135.11 778.49 L137.44 776.20 L144.41 776.20 L146.73 778.49 L146.73 791.11 L144.41 793.40 L137.44 793.40 M135.11 790.53 L146.73 779.07 M152.69 793.40 L154.72 793.40 L154.72 791.39 L152.69 791.39 L152.69 793.40 M163.58 793.40 L161.26 791.11 L161.26 778.49 L163.58 776.20 L170.56 776.20 L172.88 778.49 L172.88 791.11 L170.56 793.40 L163.58 793.40 M161.26 790.53 L172.88 779.07 M181.01 793.40 L178.69 791.11 L178.69 778.49 L181.01 776.20 L187.99 776.20 L190.31 778.49 L190.31 791.11 L187.99 793.40 L181.01 793.40 M178.69 790.53 L190.31 779.07 M196.12 776.20 L196.12 787.67 L201.93 793.40 L207.74 787.67 L207.74 776.20 M231.13 793.40 L233.16 793.40 L233.16 791.39 L231.13 791.39 L231.13 793.40 M231.13 784.80 L233.16 784.80 L233.16 782.79 L231.13 782.79 L231.13 784.80 M294.31 793.40 L291.98 791.11 L291.98 778.49 L294.31 776.20 L301.28 776.20 L303.60 778.49 L303.60 791.11 L301.28 793.40 L294.31 793.40 M291.98 790.53 L303.60 779.07 M338.46 791.11 L336.14 793.40 L329.17 793.40 L326.84 791.11 L326.84 778.49 L329.17 776.20 L336.14 776.20 L338.46 778.49 L338.46 785.37 L336.14 787.67 L332.07 787.67 L330.04 785.66 L330.04 783.08 L332.07 781.07 L335.56 781.07 L335.56 787.67 M364.03 784.80 L361.70 782.51 L361.70 778.49 L364.03 776.20 L371.00 776.20 L373.32 778.49 L373.32 782.51 L371.00 784.80 L364.03 784.80 L361.70 787.09 L361.70 791.11 L364.03 793.40 L371.00 793.40 L373.32 791.11 L373.32 787.09 L371.00 784.80 M379.13 776.20 L379.13 793.40 L388.43 793.40 L390.75 791.11 L390.75 784.23 L388.43 781.93 L379.13 781.93 M396.56 781.93 L399.47 781.93 L399.47 793.40 M396.56 793.40 L402.37 793.40 M398.89 777.35 L400.05 777.35 L400.05 776.20 L398.89 776.20 L398.89 777.35 M411.09 776.20 L411.09 791.11 L413.41 793.40 L415.16 793.40 M408.18 781.93 L414.58 781.93 M437.82 784.80 L440.14 784.80 L440.14 782.51 L437.82 782.51 L437.82 784.80 M437.82 793.40 L440.14 793.40 L440.14 791.11 L437.82 791.11 L437.82 793.40 M440.14 793.40 L440.14 796.27 L437.82 798.56 M500.56 793.40 L498.24 791.11 L498.24 778.49 L500.56 776.20 L507.54 776.20 L509.86 778.49 L509.86 791.11 L507.54 793.40 L500.56 793.40 M498.24 790.53 L509.86 779.07 M544.72 791.11 L542.40 793.40 L535.42 793.40 L533.10 791.11 L533.10 778.49 L535.42 776.20 L542.40 776.20 L544.72 778.49 L544.72 785.37 L542.40 787.67 L538.33 787.67 L536.30 785.66 L536.30 783.08 L538.33 781.07 L541.82 781.07 L541.82 787.67 M568.83 780.21 L574.35 776.20 L574.35 793.40 M568.54 793.40 L579.58 793.40 M587.71 793.40 L585.39 791.11 L585.39 778.49 L587.71 776.20 L594.69 776.20 L597.01 778.49 L597.01 791.11 L594.69 793.40 L587.71 793.40 M585.39 790.53 L597.01 779.07 M620.25 776.20 L620.25 793.40 L629.55 793.40 L631.87 791.11 L631.87 784.23 L629.55 781.93 L620.25 781.93 M637.68 781.93 L640.59 781.93 L640.59 793.40 M637.68 793.40 L643.49 793.40 M640.00 777.35 L641.17 777.35 L641.17 776.20 L640.00 776.20 L640.00 777.35 M652.21 776.20 L652.21 791.11 L654.53 793.40 L656.27 793.40 M649.30 781.93 L655.69 781.93" stroke="#0a860a" stroke-width="2.60" stroke-linecap="round" stroke-linejoin="round" fill="none" opacity="1.00"/>
<path d="M10.20 830.10 L10.20 845.01 L12.52 847.30 L19.50 847.30 L21.82 845.01 L21.82 830.10 M27.63 847.30 L27.63 830.10 L36.93 830.10 L39.25 832.39 L39.25 836.41 L36.93 838.70 L27.63 838.70 M45.21 847.30 L47.24 847.30 L47.24 845.29 L45.21 845.29 L45.21 847.30 M45.21 838.70 L47.24 838.70 L47.24 836.69 L45.21 836.69 L45.21 838.70 M143.25 847.30 L140.92 845.01 L140.92 832.39 L143.25 830.10 L150.22 830.10 L152.54 832.39 L152.54 845.01 L150.22 847.30 L143.25 847.30 M140.92 844.43 L152.54 832.97 M158.50 847.30 L160.53 847.30 L160.53 845.29 L158.50 845.29 L158.50 847.30 M167.07 830.10 L178.69 830.10 L178.69 832.97 L171.43 847.30 M185.37 834.11 L190.89 830.10 L190.89 847.30 M185.08 847.30 L196.12 847.30 M201.93 830.10 L201.93 841.57 L207.74 847.30 L213.55 841.57 L213.55 830.10 M236.94 847.30 L238.97 847.30 L238.97 845.29 L236.94 845.29 L236.94 847.30 M236.94 838.70 L238.97 838.70 L238.97 836.69 L236.94 836.69 L236.94 838.70 M280.36 832.39 L282.69 830.10 L289.66 830.10 L291.98 832.39 L291.98 836.41 L289.66 838.70 L284.72 838.70 M289.66 838.70 L291.98 840.99 L291.98 845.01 L289.66 847.30 L282.69 847.30 L280.36 845.01 M309.41 832.39 L307.09 830.10 L300.12 830.10 L297.79 832.39 L297.79 845.01 L300.12 847.30 L307.09 847.30 L309.41 845.01 L309.41 839.56 L307.09 837.27 L297.79 837.27 M344.27 845.01 L341.95 847.30 L334.98 847.30 L332.65 845.01 L332.65 832.39 L334.98 830.10 L341.95 830.10 L344.27 832.39 L344.27 839.27 L341.95 841.57 L337.88 841.57 L335.85 839.56 L335.85 836.98 L337.88 834.97 L341.37 834.97 L341.37 841.57 M369.84 838.70 L367.51 836.41 L367.51 832.39 L369.84 830.10 L376.81 830.10 L379.13 832.39 L379.13 836.41 L376.81 838.70 L369.84 838.70 L367.51 840.99 L367.51 845.01 L369.84 847.30 L376.81 847.30 L379.13 845.01 L379.13 840.99 L376.81 838.70 M384.94 830.10 L384.94 847.30 L394.24 847.30 L396.56 845.01 L396.56 838.13 L394.24 835.83 L384.94 835.83 M402.37 835.83 L405.28 835.83 L405.28 847.30 M402.37 847.30 L408.18 847.30 M404.70 831.25 L405.86 831.25 L405.86 830.10 L404.70 830.10 L404.70 831.25 M416.90 830.10 L416.90 845.01 L419.22 847.30 L420.97 847.30 M413.99 835.83 L420.39 835.83 M443.63 838.70 L445.95 838.70 L445.95 836.41 L443.63 836.41 L443.63 838.70 M443.63 847.30 L445.95 847.30 L445.95 845.01 L443.63 845.01 L443.63 847.30 M445.95 847.30 L445.95 850.17 L443.63 852.46 M470.06 834.11 L475.58 830.10 L475.58 847.30 M469.77 847.30 L480.81 847.30 M495.33 847.30 L495.33 830.10 L486.62 841.57 L498.24 841.57 M515.67 830.10 L504.05 830.10 L504.05 837.27 L513.35 837.27 L515.67 839.56 L515.67 845.01 L513.35 847.30 L506.37 847.30 L504.05 845.01 M550.53 845.01 L548.21 847.30 L541.23 847.30 L538.91 845.01 L538.91 832.39 L541.23 830.10 L548.21 830.10 L550.53 832.39 L550.53 839.27 L548.21 841.57 L544.14 841.57 L542.11 839.56 L542.11 836.98 L544.14 834.97 L547.62 834.97 L547.62 841.57 M574.64 834.11 L580.16 830.10 L580.16 847.30 M574.35 847.30 L585.39 847.30 M593.52 847.30 L591.20 845.01 L591.20 832.39 L593.52 830.10 L600.50 830.10 L602.82 832.39 L602.82 845.01 L600.50 847.30 L593.52 847.30 M591.20 844.43 L602.82 832.97 M626.06 830.10 L626.06 847.30 L635.36 847.30 L637.68 845.01 L637.68 838.13 L635.36 835.83 L626.06 835.83 M643.49 835.83 L646.39 835.83 L646.39 847.30 M643.49 847.30 L649.30 847.30 M645.81 831.25 L646.98 831.25 L646.98 830.10 L645.81 830.10 L645.81 831.25 M658.01 830.10 L658.01 845.01 L660.34 847.30 L662.08 847.30 M655.11 835.83 L661.50 835.83" stroke="#0a860a" stroke-width="2.60" stroke-linecap="round" stroke-linejoin="round" fill="none" opacity="1.00"/>
<path d="M10.20 901.10 L10.20 883.90 L19.50 883.90 L21.82 886.19 L21.82 898.81 L19.50 901.10 L10.20 901.10 M29.95 901.10 L27.63 898.81 L27.63 886.19 L29.95 883.90 L36.93 883.90 L39.25 886.19 L39.25 898.81 L36.93 901.10 L29.95 901.10 M45.06 883.90 L45.06 901.10 L50.87 895.37 L56.68 901.10 L56.68 883.90 M62.49 901.10 L62.49 883.90 L74.11 901.10 L74.11 883.90 M80.07 901.10 L82.10 901.10 L82.10 899.09 L80.07 899.09 L80.07 901.10 M80.07 892.50 L82.10 892.50 L82.10 890.49 L80.07 890.49 L80.07 892.50 M141.80 887.91 L147.32 883.90 L147.32 901.10 M141.51 901.10 L152.54 901.10 M158.50 901.10 L160.53 901.10 L160.53 899.09 L158.50 899.09 L158.50 901.10 M178.69 886.19 L176.37 883.90 L169.39 883.90 L167.07 886.19 L167.07 898.81 L169.39 901.10 L176.37 901.10 L178.69 898.81 L178.69 893.36 L176.37 891.07 L167.07 891.07 M185.37 887.91 L190.89 883.90 L190.89 901.10 M185.08 901.10 L196.12 901.10 M201.93 883.90 L201.93 895.37 L207.74 901.10 L213.55 895.37 L213.55 883.90 M236.94 901.10 L238.97 901.10 L238.97 899.09 L236.94 899.09 L236.94 901.10 M236.94 892.50 L238.97 892.50 L238.97 890.49 L236.94 890.49 L236.94 892.50 M282.69 892.50 L280.36 890.21 L280.36 886.19 L282.69 883.90 L289.66 883.90 L291.98 886.19 L291.98 890.21 L289.66 892.50 L282.69 892.50 L280.36 894.79 L280.36 898.81 L282.69 901.10 L289.66 901.10 L291.98 898.81 L291.98 894.79 L289.66 892.50 M297.79 886.19 L300.12 883.90 L307.09 883.90 L309.41 886.19 L309.41 889.63 L297.79 901.10 L309.41 901.10 M344.27 898.81 L341.95 901.10 L334.98 901.10 L332.65 898.81 L332.65 886.19 L334.98 883.90 L341.95 883.90 L344.27 886.19 L344.27 893.07 L341.95 895.37 L337.88 895.37 L335.85 893.36 L335.85 890.78 L337.88 888.77 L341.37 888.77 L341.37 895.37 M369.84 892.50 L367.51 890.21 L367.51 886.19 L369.84 883.90 L376.81 883.90 L379.13 886.19 L379.13 890.21 L376.81 892.50 L369.84 892.50 L367.51 894.79 L367.51 898.81 L369.84 901.10 L376.81 901.10 L379.13 898.81 L379.13 894.79 L376.81 892.50 M384.94 883.90 L384.94 901.10 L394.24 901.10 L396.56 898.81 L396.56 891.93 L394.24 889.63 L384.94 889.63 M402.37 889.63 L405.28 889.63 L405.28 901.10 M402.37 901.10 L408.18 901.10 M404.70 885.05 L405.86 885.05 L405.86 883.90 L404.70 883.90 L404.70 885.05 M416.90 883.90 L416.90 898.81 L419.22 901.10 L420.97 901.10 M413.99 889.63 L420.39 889.63 M443.63 892.50 L445.95 892.50 L445.95 890.21 L443.63 890.21 L443.63 892.50 M443.63 901.10 L445.95 901.10 L445.95 898.81 L443.63 898.81 L443.63 901.10 M445.95 901.10 L445.95 903.97 L443.63 906.26 M469.19 886.19 L471.51 883.90 L478.49 883.90 L480.81 886.19 L480.81 890.21 L478.49 892.50 L473.55 892.50 M478.49 892.50 L480.81 894.79 L480.81 898.81 L478.49 901.10 L471.51 901.10 L469.19 898.81 M486.62 886.19 L488.94 883.90 L495.92 883.90 L498.24 886.19 L498.24 889.63 L486.62 901.10 L498.24 901.10 M504.05 898.81 L506.37 901.10 L513.35 901.10 L515.67 898.81 L515.67 886.19 L513.35 883.90 L506.37 883.90 L504.05 886.19 L504.05 891.64 L506.37 893.93 L515.67 893.93 M550.53 898.81 L548.21 901.10 L541.23 901.10 L538.91 898.81 L538.91 886.19 L541.23 883.90 L548.21 883.90 L550.53 886.19 L550.53 893.07 L548.21 895.37 L544.14 895.37 L542.11 893.36 L542.11 890.78 L544.14 888.77 L547.62 888.77 L547.62 895.37 M574.64 887.91 L580.16 883.90 L580.16 901.10 M574.35 901.10 L585.39 901.10 M593.52 901.10 L591.20 898.81 L591.20 886.19 L593.52 883.90 L600.50 883.90 L602.82 886.19 L602.82 898.81 L600.50 901.10 L593.52 901.10 M591.20 898.23 L602.82 886.77 M626.06 883.90 L626.06 901.10 L635.36 901.10 L637.68 898.81 L637.68 891.93 L635.36 889.63 L626.06 889.63 M643.49 889.63 L646.39 889.63 L646.39 901.10 M643.49 901.10 L649.30 901.10 M645.81 885.05 L646.98 885.05 L646.98 883.90 L645.81 883.90 L645.81 885.05 M658.01 883.90 L658.01 898.81 L660.34 901.10 L662.08 901.10 M655.11 889.63 L661.50 889.63" stroke="#0a860a" stroke-width="2.60" stroke-linecap="round" stroke-linejoin="round" fill="none" opacity="1.00"/>
<path d="M10.20 937.80 L10.20 955.00 L21.82 955.00 M39.25 955.00 L27.63 955.00 L27.63 937.80 L39.25 937.80 M27.63 946.40 L36.34 946.40 M45.06 955.00 L45.06 937.80 L56.68 937.80 M45.06 946.40 L53.77 946.40 M63.36 937.80 L73.24 937.80 M68.30 937.80 L68.30 955.00 M80.07 955.00 L82.10 955.00 L82.10 952.99 L80.07 952.99 L80.07 955.00 M80.07 946.40 L82.10 946.40 L82.10 944.39 L80.07 944.39 L80.07 946.40 M140.92 940.09 L143.25 937.80 L150.22 937.80 L152.54 940.09 L152.54 943.53 L140.92 955.00 L152.54 955.00 M158.50 955.00 L160.53 955.00 L160.53 952.99 L158.50 952.99 L158.50 955.00 M175.78 955.00 L175.78 937.80 L167.07 949.27 L178.69 949.27 M184.50 937.80 L196.12 937.80 L196.12 940.67 L188.86 955.00 M201.93 937.80 L201.93 949.27 L207.74 955.00 L213.55 949.27 L213.55 937.80 M236.94 955.00 L238.97 955.00 L238.97 952.99 L236.94 952.99 L236.94 955.00 M236.94 946.40 L238.97 946.40 L238.97 944.39 L236.94 944.39 L236.94 946.40 M263.81 941.81 L269.33 937.80 L269.33 955.00 M263.52 955.00 L274.55 955.00 M280.36 940.09 L282.69 937.80 L289.66 937.80 L291.98 940.09 L291.98 943.53 L280.36 955.00 L291.98 955.00 M309.41 940.09 L307.09 937.80 L300.12 937.80 L297.79 940.09 L297.79 952.71 L300.12 955.00 L307.09 955.00 L309.41 952.71 L309.41 947.26 L307.09 944.97 L297.79 944.97 M344.27 952.71 L341.95 955.00 L334.98 955.00 L332.65 952.71 L332.65 940.09 L334.98 937.80 L341.95 937.80 L344.27 940.09 L344.27 946.97 L341.95 949.27 L337.88 949.27 L335.85 947.26 L335.85 944.68 L337.88 942.67 L341.37 942.67 L341.37 949.27 M369.84 946.40 L367.51 944.11 L367.51 940.09 L369.84 937.80 L376.81 937.80 L379.13 940.09 L379.13 944.11 L376.81 946.40 L369.84 946.40 L367.51 948.69 L367.51 952.71 L369.84 955.00 L376.81 955.00 L379.13 952.71 L379.13 948.69 L376.81 946.40 M384.94 937.80 L384.94 955.00 L394.24 955.00 L396.56 952.71 L396.56 945.83 L394.24 943.53 L384.94 943.53 M402.37 943.53 L405.28 943.53 L405.28 955.00 M402.37 955.00 L408.18 955.00 M404.70 938.95 L405.86 938.95 L405.86 937.80 L404.70 937.80 L404.70 938.95 M416.90 937.80 L416.90 952.71 L419.22 955.00 L420.97 955.00 M413.99 943.53 L420.39 943.53 M443.63 946.40 L445.95 946.40 L445.95 944.11 L443.63 944.11 L443.63 946.40 M443.63 955.00 L445.95 955.00 L445.95 952.71 L443.63 952.71 L443.63 955.00 M445.95 955.00 L445.95 957.87 L443.63 960.16 M480.81 937.80 L469.19 937.80 L469.19 944.97 L478.49 944.97 L480.81 947.26 L480.81 952.71 L478.49 955.00 L471.51 955.00 L469.19 952.71 M488.94 955.00 L486.62 952.71 L486.62 940.09 L488.94 937.80 L495.92 937.80 L498.24 940.09 L498.24 952.71 L495.92 955.00 L488.94 955.00 M486.62 952.13 L498.24 940.67 M515.67 937.80 L504.05 937.80 L504.05 944.97 L513.35 944.97 L515.67 947.26 L515.67 952.71 L513.35 955.00 L506.37 955.00 L504.05 952.71 M550.53 952.71 L548.21 955.00 L541.23 955.00 L538.91 952.71 L538.91 940.09 L541.23 937.80 L548.21 937.80 L550.53 940.09 L550.53 946.97 L548.21 949.27 L544.14 949.27 L542.11 947.26 L542.11 944.68 L544.14 942.67 L547.62 942.67 L547.62 949.27 M574.64 941.81 L580.16 937.80 L580.16 955.00 M574.35 955.00 L585.39 955.00 M593.52 955.00 L591.20 952.71 L591.20 940.09 L593.52 937.80 L600.50 937.80 L602.82 940.09 L602.82 952.71 L600.50 955.00 L593.52 955.00 M591.20 952.13 L602.82 940.67 M626.06 937.80 L626.06 955.00 L635.36 955.00 L637.68 952.71 L637.68 945.83 L635.36 943.53 L626.06 943.53 M643.49 943.53 L646.39 943.53 L646.39 955.00 M643.49 955.00 L649.30 955.00 M645.81 938.95 L646.98 938.95 L646.98 937.80 L645.81 937.80 L645.81 938.95 M658.01 937.80 L658.01 952.71 L660.34 955.00 L662.08 955.00 M655.11 943.53 L661.50 943.53" stroke="#0a860a" stroke-width="2.60" stroke-linecap="round" stroke-linejoin="round" fill="none" opacity="1.00"/>
<path d="M21.82 993.89 L19.50 991.60 L12.52 991.60 L10.20 993.89 L10.20 997.91 L12.52 1000.20 L19.50 1000.20 L21.82 1002.49 L21.82 1006.51 L19.50 1008.80 L12.52 1008.80 L10.20 1006.51 M39.25 1008.80 L27.63 1008.80 L27.63 991.60 L39.25 991.60 M27.63 1000.20 L36.34 1000.20 M45.06 991.60 L45.06 1008.80 L56.68 1008.80 M74.11 1008.80 L62.49 1008.80 L62.49 991.60 L74.11 991.60 M62.49 1000.20 L71.20 1000.20 M91.54 1006.51 L89.22 1008.80 L82.24 1008.80 L79.92 1006.51 L79.92 993.89 L82.24 991.60 L89.22 991.60 L91.54 993.89 M98.22 991.60 L108.10 991.60 M103.16 991.60 L103.16 1008.80 M114.93 1008.80 L116.96 1008.80 L116.96 1006.79 L114.93 1006.79 L114.93 1008.80 M114.93 1000.20 L116.96 1000.20 L116.96 998.19 L114.93 998.19 L114.93 1000.20 M140.92 993.89 L143.25 991.60 L150.22 991.60 L152.54 993.89 L152.54 997.91 L150.22 1000.20 L145.28 1000.20 M150.22 1000.20 L152.54 1002.49 L152.54 1006.51 L150.22 1008.80 L143.25 1008.80 L140.92 1006.51 M158.50 1008.80 L160.53 1008.80 L160.53 1006.79 L158.50 1006.79 L158.50 1008.80 M178.69 993.89 L176.37 991.60 L169.39 991.60 L167.07 993.89 L167.07 1006.51 L169.39 1008.80 L176.37 1008.80 L178.69 1006.51 L178.69 1001.06 L176.37 998.77 L167.07 998.77 M184.50 993.89 L186.82 991.60 L193.80 991.60 L196.12 993.89 L196.12 997.33 L184.50 1008.80 L196.12 1008.80 M201.93 991.60 L201.93 1003.07 L207.74 1008.80 L213.55 1003.07 L213.55 991.60 M236.94 1008.80 L238.97 1008.80 L238.97 1006.79 L236.94 1006.79 L236.94 1008.80 M236.94 1000.20 L238.97 1000.20 L238.97 998.19 L236.94 998.19 L236.94 1000.20 M263.81 995.61 L269.33 991.60 L269.33 1008.80 M263.52 1008.80 L274.55 1008.80 M282.69 1000.20 L280.36 997.91 L280.36 993.89 L282.69 991.60 L289.66 991.60 L291.98 993.89 L291.98 997.91 L289.66 1000.20 L282.69 1000.20 L280.36 1002.49 L280.36 1006.51 L282.69 1008.80 L289.66 1008.80 L291.98 1006.51 L291.98 1002.49 L289.66 1000.20 M309.41 991.60 L297.79 991.60 L297.79 998.77 L307.09 998.77 L309.41 1001.06 L309.41 1006.51 L307.09 1008.80 L300.12 1008.80 L297.79 1006.51 M344.27 1006.51 L341.95 1008.80 L334.98 1008.80 L332.65 1006.51 L332.65 993.89 L334.98 991.60 L341.95 991.60 L344.27 993.89 L344.27 1000.77 L341.95 1003.07 L337.88 1003.07 L335.85 1001.06 L335.85 998.48 L337.88 996.47 L341.37 996.47 L341.37 1003.07 M369.84 1000.20 L367.51 997.91 L367.51 993.89 L369.84 991.60 L376.81 991.60 L379.13 993.89 L379.13 997.91 L376.81 1000.20 L369.84 1000.20 L367.51 1002.49 L367.51 1006.51 L369.84 1008.80 L376.81 1008.80 L379.13 1006.51 L379.13 1002.49 L376.81 1000.20 M384.94 991.60 L384.94 1008.80 L394.24 1008.80 L396.56 1006.51 L396.56 999.63 L394.24 997.33 L384.94 997.33 M402.37 997.33 L405.28 997.33 L405.28 1008.80 M402.37 1008.80 L408.18 1008.80 M404.70 992.75 L405.86 992.75 L405.86 991.60 L404.70 991.60 L404.70 992.75 M416.90 991.60 L416.90 1006.51 L419.22 1008.80 L420.97 1008.80 M413.99 997.33 L420.39 997.33 M443.63 1000.20 L445.95 1000.20 L445.95 997.91 L443.63 997.91 L443.63 1000.20 M443.63 1008.80 L445.95 1008.80 L445.95 1006.51 L443.63 1006.51 L443.63 1008.80 M445.95 1008.80 L445.95 1011.67 L443.63 1013.96 M469.19 991.60 L480.81 991.60 L480.81 994.47 L473.55 1008.80 M495.33 1008.80 L495.33 991.60 L486.62 1003.07 L498.24 1003.07 M504.92 995.61 L510.44 991.60 L510.44 1008.80 M504.63 1008.80 L515.67 1008.80 M550.53 1006.51 L548.21 1008.80 L541.23 1008.80 L538.91 1006.51 L538.91 993.89 L541.23 991.60 L548.21 991.60 L550.53 993.89 L550.53 1000.77 L548.21 1003.07 L544.14 1003.07 L542.11 1001.06 L542.11 998.48 L544.14 996.47 L547.62 996.47 L547.62 1003.07 M574.64 995.61 L580.16 991.60 L580.16 1008.80 M574.35 1008.80 L585.39 1008.80 M593.52 1008.80 L591.20 1006.51 L591.20 993.89 L593.52 991.60 L600.50 991.60 L602.82 993.89 L602.82 1006.51 L600.50 1008.80 L593.52 1008.80 M591.20 1005.93 L602.82 994.47 M626.06 991.60 L626.06 1008.80 L635.36 1008.80 L637.68 1006.51 L637.68 999.63 L635.36 997.33 L626.06 997.33 M643.49 997.33 L646.39 997.33 L646.39 1008.80 M643.49 1008.80 L649.30 1008.80 M645.81 992.75 L646.98 992.75 L646.98 991.60 L645.81 991.60 L645.81 992.75 M658.01 991.60 L658.01 1006.51 L660.34 1008.80 L662.08 1008.80 M655.11 997.33 L661.50 997.33" stroke="#0a860a" stroke-width="2.60" stroke-linecap="round" stroke-linejoin="round" fill="none" opacity="1.00"/>
<path d="M763.40 113.55 L763.40 140.48" stroke="#820000" stroke-width="2.30" stroke-linecap="butt" fill="none" />
<path d="M763.40 194.34 L763.40 221.27" stroke="#820000" stroke-width="2.30" stroke-linecap="butt" fill="none" />
<path d="M752.60 140.48 L774.20 140.48 L774.20 194.34 L752.60 194.34 L752.60 139.48" stroke="#a03038" stroke-width="2.90" stroke-linecap="butt" stroke-linejoin="miter" fill="none" />
<path d="M763.40 275.13 L763.40 302.06" stroke="#820000" stroke-width="2.30" stroke-linecap="butt" fill="none" />
<path d="M763.40 355.92 L763.40 382.85" stroke="#820000" stroke-width="2.30" stroke-linecap="butt" fill="none" />
<path d="M752.60 302.06 L774.20 302.06 L774.20 355.92 L752.60 355.92 L752.60 301.06" stroke="#a03038" stroke-width="2.90" stroke-linecap="butt" stroke-linejoin="miter" fill="none" />
<path d="M763.40 436.71 L763.40 463.64" stroke="#820000" stroke-width="2.30" stroke-linecap="butt" fill="none" />
<path d="M763.40 517.50 L763.40 544.43" stroke="#820000" stroke-width="2.30" stroke-linecap="butt" fill="none" />
<path d="M752.60 463.64 L774.20 463.64 L774.20 517.50 L752.60 517.50 L752.60 462.64" stroke="#a03038" stroke-width="2.90" stroke-linecap="butt" stroke-linejoin="miter" fill="none" />
<path d="M763.40 598.29 L763.40 625.22" stroke="#820000" stroke-width="2.30" stroke-linecap="butt" fill="none" />
<path d="M763.40 679.08 L763.40 706.01" stroke="#820000" stroke-width="2.30" stroke-linecap="butt" fill="none" />
<path d="M752.60 625.22 L774.20 625.22 L774.20 679.08 L752.60 679.08 L752.60 624.22" stroke="#a03038" stroke-width="2.90" stroke-linecap="butt" stroke-linejoin="miter" fill="none" />
<path d="M763.40 759.87 L763.40 786.80" stroke="#820000" stroke-width="2.30" stroke-linecap="butt" fill="none" />
<path d="M763.40 840.66 L763.40 867.59" stroke="#820000" stroke-width="2.30" stroke-linecap="butt" fill="none" />
<path d="M752.60 786.80 L774.20 786.80 L774.20 840.66 L752.60 840.66 L752.60 785.80" stroke="#a03038" stroke-width="2.90" stroke-linecap="butt" stroke-linejoin="miter" fill="none" />
<path d="M763.40 60.69 L763.40 86.62" stroke="#850000" stroke-width="2.50" stroke-linecap="butt" fill="none" />
<path d="M755.30 73.16 L763.40 59.69 L771.50 73.16" stroke="#850000" stroke-width="2.80" stroke-linecap="round" stroke-linejoin="miter" fill="none" />
<path d="M1086.56 921.45 L1086.56 948.38" stroke="#820000" stroke-width="2.70" stroke-linecap="butt" fill="none" />
<path d="M1066.06 948.38 L1107.06 948.38" stroke="#982428" stroke-width="3.40" stroke-linecap="round" fill="none" />
<path d="M871.12 221.27 L898.05 221.27" stroke="#820000" stroke-width="2.30" stroke-linecap="butt" fill="none" />
<path d="M871.12 248.20 L898.05 248.20" stroke="#820000" stroke-width="2.30" stroke-linecap="butt" fill="none" />
<path d="M978.84 221.27 L951.91 221.27" stroke="#820000" stroke-width="2.30" stroke-linecap="butt" fill="none" />
<path d="M978.84 248.20 L951.91 248.20" stroke="#820000" stroke-width="2.30" stroke-linecap="butt" fill="none" />
<path d="M898.05 221.27 L898.05 249.20" stroke="#820000" stroke-width="2.30" stroke-linecap="butt" fill="none" />
<path d="M951.91 221.27 L951.91 249.20" stroke="#820000" stroke-width="2.30" stroke-linecap="butt" fill="none" />
<circle cx="898.05" cy="221.27" r="4.10" fill="#850000"/>
<circle cx="951.91" cy="221.27" r="4.10" fill="#850000"/>
<path d="M951.91 221.27 L945.11 221.27" stroke="#850000" stroke-width="2.80" stroke-linecap="butt" fill="none" />
<path d="M898.05 221.27 L945.18 207.81" stroke="#850000" stroke-width="2.80" stroke-linecap="round" fill="none" />
<path d="M904.78 187.57 L904.78 174.17 L945.18 174.17 L945.18 187.57" stroke="#850000" stroke-width="2.90" stroke-linecap="round" stroke-linejoin="miter" fill="none" />
<path d="M924.98 174.17 L924.98 187.57" stroke="#850000" stroke-width="2.80" stroke-linecap="butt" fill="none" />
<path d="M924.98 194.34 L924.98 201.07" stroke="#850000" stroke-width="2.80" stroke-linecap="butt" fill="none" />
<path d="M924.98 207.81 L924.98 214.57" stroke="#850000" stroke-width="2.80" stroke-linecap="butt" fill="none" />
<path d="M871.12 382.85 L898.05 382.85" stroke="#820000" stroke-width="2.30" stroke-linecap="butt" fill="none" />
<path d="M871.12 409.78 L898.05 409.78" stroke="#820000" stroke-width="2.30" stroke-linecap="butt" fill="none" />
<path d="M978.84 382.85 L951.91 382.85" stroke="#820000" stroke-width="2.30" stroke-linecap="butt" fill="none" />
<path d="M978.84 409.78 L951.91 409.78" stroke="#820000" stroke-width="2.30" stroke-linecap="butt" fill="none" />
<path d="M898.05 382.85 L898.05 410.78" stroke="#820000" stroke-width="2.30" stroke-linecap="butt" fill="none" />
<path d="M951.91 382.85 L951.91 410.78" stroke="#820000" stroke-width="2.30" stroke-linecap="butt" fill="none" />
<circle cx="898.05" cy="382.85" r="4.10" fill="#850000"/>
<circle cx="951.91" cy="382.85" r="4.10" fill="#850000"/>
<path d="M951.91 382.85 L945.11 382.85" stroke="#850000" stroke-width="2.80" stroke-linecap="butt" fill="none" />
<path d="M898.05 382.85 L945.18 369.39" stroke="#850000" stroke-width="2.80" stroke-linecap="round" fill="none" />
<path d="M904.78 349.15 L904.78 335.75 L945.18 335.75 L945.18 349.15" stroke="#850000" stroke-width="2.90" stroke-linecap="round" stroke-linejoin="miter" fill="none" />
<path d="M924.98 335.75 L924.98 349.15" stroke="#850000" stroke-width="2.80" stroke-linecap="butt" fill="none" />
<path d="M924.98 355.92 L924.98 362.65" stroke="#850000" stroke-width="2.80" stroke-linecap="butt" fill="none" />
<path d="M924.98 369.39 L924.98 376.15" stroke="#850000" stroke-width="2.80" stroke-linecap="butt" fill="none" />
<path d="M871.12 544.43 L898.05 544.43" stroke="#820000" stroke-width="2.30" stroke-linecap="butt" fill="none" />
<path d="M871.12 571.36 L898.05 571.36" stroke="#820000" stroke-width="2.30" stroke-linecap="butt" fill="none" />
<path d="M978.84 544.43 L951.91 544.43" stroke="#820000" stroke-width="2.30" stroke-linecap="butt" fill="none" />
<path d="M978.84 571.36 L951.91 571.36" stroke="#820000" stroke-width="2.30" stroke-linecap="butt" fill="none" />
<path d="M898.05 544.43 L898.05 572.36" stroke="#820000" stroke-width="2.30" stroke-linecap="butt" fill="none" />
<path d="M951.91 544.43 L951.91 572.36" stroke="#820000" stroke-width="2.30" stroke-linecap="butt" fill="none" />
<circle cx="898.05" cy="544.43" r="4.10" fill="#850000"/>
<circle cx="951.91" cy="544.43" r="4.10" fill="#850000"/>
<path d="M951.91 544.43 L945.11 544.43" stroke="#850000" stroke-width="2.80" stroke-linecap="butt" fill="none" />
<path d="M898.05 544.43 L945.18 530.97" stroke="#850000" stroke-width="2.80" stroke-linecap="round" fill="none" />
<path d="M904.78 510.73 L904.78 497.33 L945.18 497.33 L945.18 510.73" stroke="#850000" stroke-width="2.90" stroke-linecap="round" stroke-linejoin="miter" fill="none" />
<path d="M924.98 497.33 L924.98 510.73" stroke="#850000" stroke-width="2.80" stroke-linecap="butt" fill="none" />
<path d="M924.98 517.50 L924.98 524.23" stroke="#850000" stroke-width="2.80" stroke-linecap="butt" fill="none" />
<path d="M924.98 530.97 L924.98 537.73" stroke="#850000" stroke-width="2.80" stroke-linecap="butt" fill="none" />
<path d="M871.12 706.01 L898.05 706.01" stroke="#820000" stroke-width="2.30" stroke-linecap="butt" fill="none" />
<path d="M871.12 732.94 L898.05 732.94" stroke="#820000" stroke-width="2.30" stroke-linecap="butt" fill="none" />
<path d="M978.84 706.01 L951.91 706.01" stroke="#820000" stroke-width="2.30" stroke-linecap="butt" fill="none" />
<path d="M978.84 732.94 L951.91 732.94" stroke="#820000" stroke-width="2.30" stroke-linecap="butt" fill="none" />
<path d="M898.05 706.01 L898.05 733.94" stroke="#820000" stroke-width="2.30" stroke-linecap="butt" fill="none" />
<path d="M951.91 706.01 L951.91 733.94" stroke="#820000" stroke-width="2.30" stroke-linecap="butt" fill="none" />
<circle cx="898.05" cy="706.01" r="4.10" fill="#850000"/>
<circle cx="951.91" cy="706.01" r="4.10" fill="#850000"/>
<path d="M951.91 706.01 L945.11 706.01" stroke="#850000" stroke-width="2.80" stroke-linecap="butt" fill="none" />
<path d="M898.05 706.01 L945.18 692.55" stroke="#850000" stroke-width="2.80" stroke-linecap="round" fill="none" />
<path d="M904.78 672.31 L904.78 658.91 L945.18 658.91 L945.18 672.31" stroke="#850000" stroke-width="2.90" stroke-linecap="round" stroke-linejoin="miter" fill="none" />
<path d="M924.98 658.91 L924.98 672.31" stroke="#850000" stroke-width="2.80" stroke-linecap="butt" fill="none" />
<path d="M924.98 679.08 L924.98 685.81" stroke="#850000" stroke-width="2.80" stroke-linecap="butt" fill="none" />
<path d="M924.98 692.55 L924.98 699.31" stroke="#850000" stroke-width="2.80" stroke-linecap="butt" fill="none" />
<path d="M871.12 867.59 L898.05 867.59" stroke="#820000" stroke-width="2.30" stroke-linecap="butt" fill="none" />
<path d="M871.12 894.52 L898.05 894.52" stroke="#820000" stroke-width="2.30" stroke-linecap="butt" fill="none" />
<path d="M978.84 867.59 L951.91 867.59" stroke="#820000" stroke-width="2.30" stroke-linecap="butt" fill="none" />
<path d="M978.84 894.52 L951.91 894.52" stroke="#820000" stroke-width="2.30" stroke-linecap="butt" fill="none" />
<path d="M898.05 867.59 L898.05 895.52" stroke="#820000" stroke-width="2.30" stroke-linecap="butt" fill="none" />
<path d="M951.91 867.59 L951.91 895.52" stroke="#820000" stroke-width="2.30" stroke-linecap="butt" fill="none" />
<circle cx="898.05" cy="867.59" r="4.10" fill="#850000"/>
<circle cx="951.91" cy="867.59" r="4.10" fill="#850000"/>
<path d="M951.91 867.59 L945.11 867.59" stroke="#850000" stroke-width="2.80" stroke-linecap="butt" fill="none" />
<path d="M898.05 867.59 L945.18 854.13" stroke="#850000" stroke-width="2.80" stroke-linecap="round" fill="none" />
<path d="M904.78 833.89 L904.78 820.49 L945.18 820.49 L945.18 833.89" stroke="#850000" stroke-width="2.90" stroke-linecap="round" stroke-linejoin="miter" fill="none" />
<path d="M924.98 820.49 L924.98 833.89" stroke="#850000" stroke-width="2.80" stroke-linecap="butt" fill="none" />
<path d="M924.98 840.66 L924.98 847.39" stroke="#850000" stroke-width="2.80" stroke-linecap="butt" fill="none" />
<path d="M924.98 854.13 L924.98 860.89" stroke="#850000" stroke-width="2.80" stroke-linecap="butt" fill="none" />
<path d="M171.60 248.20 L238.80 248.20 L238.80 436.71 L171.60 436.71 L171.60 246.10" stroke="#850000" stroke-width="4.30" stroke-linecap="butt" stroke-linejoin="miter" fill="none" />
<path d="M224.80 275.13 L278.66 275.13" stroke="#820000" stroke-width="3.53" stroke-linecap="butt" fill="none" opacity="0.60"/>
<path d="M211.34 275.13 L225.30 275.13" stroke="#850000" stroke-width="6.40" stroke-linecap="round" fill="none" />
<path d="M224.80 302.06 L278.66 302.06" stroke="#820000" stroke-width="2.71" stroke-linecap="butt" fill="none" opacity="0.78"/>
<path d="M211.34 302.06 L225.30 302.06" stroke="#850000" stroke-width="6.40" stroke-linecap="round" fill="none" />
<path d="M224.80 328.99 L278.66 328.99" stroke="#820000" stroke-width="2.30" stroke-linecap="butt" fill="none" />
<path d="M211.34 328.99 L225.30 328.99" stroke="#850000" stroke-width="6.40" stroke-linecap="round" fill="none" />
<path d="M224.80 355.92 L278.66 355.92" stroke="#820000" stroke-width="3.53" stroke-linecap="butt" fill="none" opacity="0.60"/>
<path d="M211.34 355.92 L225.30 355.92" stroke="#850000" stroke-width="6.40" stroke-linecap="round" fill="none" />
<path d="M224.80 382.85 L278.66 382.85" stroke="#820000" stroke-width="3.53" stroke-linecap="butt" fill="none" opacity="0.60"/>
<path d="M211.34 382.85 L225.30 382.85" stroke="#850000" stroke-width="6.40" stroke-linecap="round" fill="none" />
<path d="M224.80 409.78 L278.66 409.78" stroke="#820000" stroke-width="3.41" stroke-linecap="butt" fill="none" opacity="0.62"/>
<path d="M211.34 409.78 L225.30 409.78" stroke="#850000" stroke-width="6.40" stroke-linecap="round" fill="none" />
<path d="M171.60 517.50 L238.80 517.50 L238.80 706.01 L171.60 706.01 L171.60 515.40" stroke="#850000" stroke-width="4.30" stroke-linecap="butt" stroke-linejoin="miter" fill="none" />
<path d="M224.80 544.43 L278.66 544.43" stroke="#820000" stroke-width="2.30" stroke-linecap="butt" fill="none" />
<path d="M211.34 544.43 L225.30 544.43" stroke="#850000" stroke-width="6.40" stroke-linecap="round" fill="none" />
<path d="M224.80 571.36 L278.66 571.36" stroke="#820000" stroke-width="2.30" stroke-linecap="butt" fill="none" />
<path d="M211.34 571.36 L225.30 571.36" stroke="#850000" stroke-width="6.40" stroke-linecap="round" fill="none" />
<path d="M224.80 598.29 L278.66 598.29" stroke="#820000" stroke-width="3.41" stroke-linecap="butt" fill="none" opacity="0.62"/>
<path d="M211.34 598.29 L225.30 598.29" stroke="#850000" stroke-width="6.40" stroke-linecap="round" fill="none" />
<path d="M224.80 625.22 L278.66 625.22" stroke="#820000" stroke-width="3.41" stroke-linecap="butt" fill="none" opacity="0.62"/>
<path d="M211.34 625.22 L225.30 625.22" stroke="#850000" stroke-width="6.40" stroke-linecap="round" fill="none" />
<path d="M224.80 652.15 L278.66 652.15" stroke="#820000" stroke-width="2.30" stroke-linecap="butt" fill="none" />
<path d="M211.34 652.15 L225.30 652.15" stroke="#850000" stroke-width="6.40" stroke-linecap="round" fill="none" />
<path d="M224.80 679.08 L278.66 679.08" stroke="#820000" stroke-width="2.30" stroke-linecap="butt" fill="none" />
<path d="M211.34 679.08 L225.30 679.08" stroke="#850000" stroke-width="6.40" stroke-linecap="round" fill="none" />
<path d="M763.40 86.62 L763.40 113.55" stroke="#008000" stroke-width="2.40" stroke-linecap="butt" fill="none" />
<path d="M763.40 221.27 L763.40 248.20" stroke="#008000" stroke-width="2.40" stroke-linecap="butt" fill="none" />
<path d="M763.40 248.20 L763.40 275.13" stroke="#008000" stroke-width="2.40" stroke-linecap="butt" fill="none" />
<path d="M763.40 382.85 L763.40 409.78" stroke="#008000" stroke-width="2.40" stroke-linecap="butt" fill="none" />
<path d="M763.40 409.78 L763.40 436.71" stroke="#008000" stroke-width="2.40" stroke-linecap="butt" fill="none" />
<path d="M763.40 544.43 L763.40 571.36" stroke="#008000" stroke-width="2.40" stroke-linecap="butt" fill="none" />
<path d="M763.40 571.36 L763.40 598.29" stroke="#008000" stroke-width="2.40" stroke-linecap="butt" fill="none" />
<path d="M763.40 706.01 L763.40 732.94" stroke="#008000" stroke-width="2.40" stroke-linecap="butt" fill="none" />
<path d="M763.40 732.94 L763.40 759.87" stroke="#008000" stroke-width="2.40" stroke-linecap="butt" fill="none" />
<path d="M763.40 867.59 L763.40 895.72" stroke="#008000" stroke-width="2.40" stroke-linecap="butt" fill="none" />
<path d="M278.66 544.43 L603.02 544.43" stroke="#008000" stroke-width="2.40" stroke-linecap="butt" fill="none" />
<path d="M602.22 545.63 L602.22 247.00" stroke="#008000" stroke-width="3.56" stroke-linecap="butt" fill="none" opacity="0.62"/>
<path d="M600.62 248.20 L871.12 248.20" stroke="#008000" stroke-width="2.40" stroke-linecap="butt" fill="none" />
<path d="M978.84 248.20 L1086.56 248.20" stroke="#008000" stroke-width="2.40" stroke-linecap="butt" fill="none" />
<path d="M871.12 221.27 L871.12 248.20" stroke="#008000" stroke-width="2.40" stroke-linecap="butt" fill="none" />
<path d="M978.84 221.27 L978.84 248.20" stroke="#008000" stroke-width="2.40" stroke-linecap="butt" fill="none" />
<path d="M763.40 409.78 L871.12 409.78" stroke="#008000" stroke-width="2.40" stroke-linecap="butt" fill="none" />
<path d="M978.84 409.78 L1086.56 409.78" stroke="#008000" stroke-width="2.40" stroke-linecap="butt" fill="none" />
<path d="M871.12 382.85 L871.12 409.78" stroke="#008000" stroke-width="2.40" stroke-linecap="butt" fill="none" />
<path d="M978.84 382.85 L978.84 409.78" stroke="#008000" stroke-width="2.40" stroke-linecap="butt" fill="none" />
<path d="M763.40 571.36 L871.12 571.36" stroke="#008000" stroke-width="2.40" stroke-linecap="butt" fill="none" />
<path d="M978.84 571.36 L1086.56 571.36" stroke="#008000" stroke-width="2.40" stroke-linecap="butt" fill="none" />
<path d="M871.12 544.43 L871.12 571.36" stroke="#008000" stroke-width="2.40" stroke-linecap="butt" fill="none" />
<path d="M978.84 544.43 L978.84 571.36" stroke="#008000" stroke-width="2.40" stroke-linecap="butt" fill="none" />
<path d="M763.40 732.94 L871.12 732.94" stroke="#008000" stroke-width="2.40" stroke-linecap="butt" fill="none" />
<path d="M978.84 732.94 L1086.56 732.94" stroke="#008000" stroke-width="2.40" stroke-linecap="butt" fill="none" />
<path d="M871.12 706.01 L871.12 732.94" stroke="#008000" stroke-width="2.40" stroke-linecap="butt" fill="none" />
<path d="M978.84 706.01 L978.84 732.94" stroke="#008000" stroke-width="2.40" stroke-linecap="butt" fill="none" />
<path d="M763.40 894.52 L871.12 894.52" stroke="#008000" stroke-width="2.40" stroke-linecap="butt" fill="none" />
<path d="M978.84 894.52 L1086.56 894.52" stroke="#008000" stroke-width="2.40" stroke-linecap="butt" fill="none" />
<path d="M871.12 867.59 L871.12 894.52" stroke="#008000" stroke-width="2.40" stroke-linecap="butt" fill="none" />
<path d="M978.84 867.59 L978.84 894.52" stroke="#008000" stroke-width="2.40" stroke-linecap="butt" fill="none" />
<path d="M1086.56 247.20 L1086.56 921.45" stroke="#008000" stroke-width="2.40" stroke-linecap="butt" fill="none" />
<path d="M278.66 275.13 L441.54 275.13" stroke="#008000" stroke-width="3.68" stroke-linecap="butt" fill="none" opacity="0.60"/>
<path d="M278.66 302.06 L441.54 302.06" stroke="#008000" stroke-width="2.83" stroke-linecap="butt" fill="none" opacity="0.78"/>
<path d="M278.66 328.99 L441.54 328.99" stroke="#008000" stroke-width="2.40" stroke-linecap="butt" fill="none" />
<path d="M278.66 355.92 L441.54 355.92" stroke="#008000" stroke-width="3.68" stroke-linecap="butt" fill="none" opacity="0.60"/>
<path d="M278.66 382.85 L441.54 382.85" stroke="#008000" stroke-width="3.68" stroke-linecap="butt" fill="none" opacity="0.60"/>
<path d="M278.66 409.78 L441.54 409.78" stroke="#008000" stroke-width="3.56" stroke-linecap="butt" fill="none" opacity="0.62"/>
<path d="M278.66 571.36 L441.54 571.36" stroke="#008000" stroke-width="2.40" stroke-linecap="butt" fill="none" />
<path d="M278.66 598.29 L441.54 598.29" stroke="#008000" stroke-width="3.56" stroke-linecap="butt" fill="none" opacity="0.62"/>
<path d="M278.66 625.22 L441.54 625.22" stroke="#008000" stroke-width="3.56" stroke-linecap="butt" fill="none" opacity="0.62"/>
<path d="M278.66 652.15 L441.54 652.15" stroke="#008000" stroke-width="2.40" stroke-linecap="butt" fill="none" />
<path d="M278.66 679.08 L441.54 679.08" stroke="#008000" stroke-width="2.40" stroke-linecap="butt" fill="none" />
<circle cx="763.40" cy="248.20" r="6.30" fill="#008000"/>
<circle cx="763.40" cy="409.78" r="6.30" fill="#008000"/>
<circle cx="763.40" cy="571.36" r="6.30" fill="#008000"/>
<circle cx="763.40" cy="732.94" r="6.30" fill="#008000"/>
<circle cx="871.12" cy="248.20" r="6.30" fill="#008000"/>
<circle cx="978.84" cy="248.20" r="6.30" fill="#008000"/>
<circle cx="871.12" cy="409.78" r="6.30" fill="#008000"/>
<circle cx="978.84" cy="409.78" r="6.30" fill="#008000"/>
<circle cx="871.12" cy="571.36" r="6.30" fill="#008000"/>
<circle cx="978.84" cy="571.36" r="6.30" fill="#008000"/>
<circle cx="871.12" cy="732.94" r="6.30" fill="#008000"/>
<circle cx="978.84" cy="732.94" r="6.30" fill="#008000"/>
<circle cx="871.12" cy="894.52" r="6.30" fill="#008000"/>
<circle cx="978.84" cy="894.52" r="6.30" fill="#008000"/>
<circle cx="1086.56" cy="409.78" r="6.30" fill="#008000"/>
<circle cx="1086.56" cy="571.36" r="6.30" fill="#008000"/>
<circle cx="1086.56" cy="732.94" r="6.30" fill="#008000"/>
<circle cx="1086.56" cy="894.52" r="6.30" fill="#008000"/>
</g>
</svg>
</body></html>
